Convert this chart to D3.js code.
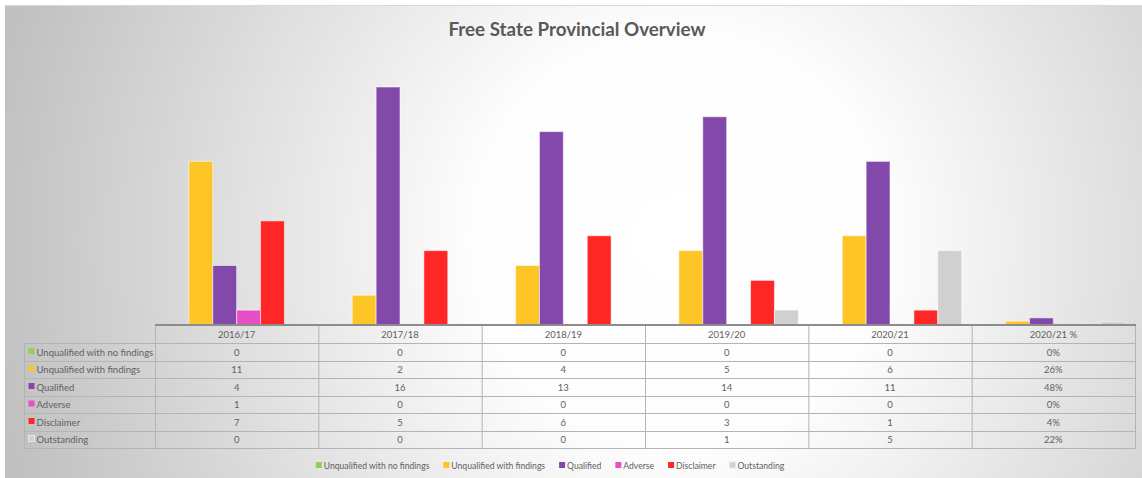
<!DOCTYPE html>
<html>
<head>
<meta charset="utf-8">
<script src="https://cdn.jsdelivr.net/npm/d3@7"></script>
<style>
  body { margin: 0; background: #ffffff; }
  svg { display: block; font-family: Lato, "Open Sans", sans-serif; }
</style>
</head>
<body>
<svg id="chart" width="1142" height="478"></svg>
<script>
// chart data
const categories = ["2016/17", "2017/18", "2018/19", "2019/20", "2020/21", "2020/21 %"];
const seriesNames = ["Unqualified with no findings", "Unqualified with findings", "Qualified", "Adverse", "Disclaimer", "Outstanding"];
const seriesColors = ["#92d050", "#fdc526", "#8249ab", "#e84fc6", "#ff2626", "#d0d0d0"];
const unqualifiedNoFindings = [0, 0, 0, 0, 0, 0];
const unqualifiedFindings = [11, 2, 4, 5, 6, 0.26];
const qualified = [4, 16, 13, 14, 11, 0.48];
const adverse = [1, 0, 0, 0, 0, 0];
const disclaimer = [7, 5, 6, 3, 1, 0.04];
const outstanding = [0, 0, 0, 1, 5, 0.22];
const seriesValues = [unqualifiedNoFindings, unqualifiedFindings, qualified, adverse, disclaimer, outstanding];

const svg = d3.select("#chart");
const W = 1142, H = 478;
const textColor = "#606060";

// background
const defs = svg.append("defs");
const grad = defs.append("radialGradient")
  .attr("id", "bg")
  .attr("gradientUnits", "userSpaceOnUse")
  .attr("cx", 680).attr("cy", 240).attr("r", 700);
grad.append("stop").attr("offset", "0").attr("stop-color", "#ffffff");
grad.append("stop").attr("offset", "0.3").attr("stop-color", "#fdfdfd");
grad.append("stop").attr("offset", "1").attr("stop-color", "#c0c0c0");

svg.append("rect").attr("x", 5).attr("y", 5).attr("width", W - 5).attr("height", H - 5).attr("fill", "url(#bg)");
svg.append("line").attr("x1", 5).attr("x2", W).attr("y1", 5.5).attr("y2", 5.5).attr("stroke", "#d9d9d9");

svg.append("text")
  .attr("x", 577).attr("y", 36)
  .attr("text-anchor", "middle")
  .attr("font-size", 18.8).attr("font-weight", "bold")
  .attr("fill", "#595959")
  .text("Free State Provincial Overview");

// scales
const left = 155, right = 1135, base = 325;
const x0 = d3.scaleBand().domain(categories).range([left, right]).paddingInner(0);
const bw = x0.bandwidth();
const x1 = d3.scaleBand().domain(seriesNames).range([10, bw - 10]).padding(0);
const y = d3.scaleLinear().domain([0, 18]).range([base, base - 18 * 14.875]);

const groups = svg.append("g").selectAll("g")
  .data(categories)
  .join("g")
  .attr("transform", d => `translate(${x0(d)},0)`);

groups.selectAll("rect")
  .data((c, ci) => seriesNames.map((s, si) => ({ s, si, v: seriesValues[si][ci] })))
  .join("rect")
  .attr("x", d => x1(d.s))
  .attr("width", x1.bandwidth())
  .attr("y", d => y(d.v))
  .attr("height", d => base - y(d.v))
  .attr("fill", d => seriesColors[d.si])
  .attr("stroke", "rgba(255,255,255,0.55)")
  .attr("stroke-width", d => d.v > 0 ? 1 : 0);

// data table
const rowH = 17.5;
const headTop = base, bodyTop = 343;
const labelLeft = 24;
const tableColor = "#b4b4b4";
const tbl = svg.append("g");

// column lines
categories.forEach((c, i) => {
  tbl.append("line")
    .attr("x1", x0(c) + 0.5).attr("x2", x0(c) + 0.5)
    .attr("y1", headTop).attr("y2", bodyTop + rowH * 6)
    .attr("stroke", tableColor);
});
tbl.append("line").attr("x1", right + 0.5).attr("x2", right + 0.5)
  .attr("y1", headTop).attr("y2", bodyTop + rowH * 6).attr("stroke", tableColor);
tbl.append("line").attr("x1", labelLeft + 0.5).attr("x2", labelLeft + 0.5)
  .attr("y1", bodyTop).attr("y2", bodyTop + rowH * 6).attr("stroke", tableColor);
// row lines
for (let r = 0; r <= 6; r++) {
  tbl.append("line")
    .attr("x1", labelLeft).attr("x2", right + 0.5)
    .attr("y1", Math.round(bodyTop + r * rowH) + 0.5).attr("y2", Math.round(bodyTop + r * rowH) + 0.5)
    .attr("stroke", tableColor);
}
// axis line
svg.append("line").attr("x1", left).attr("x2", right + 1)
  .attr("y1", base).attr("y2", base)
  .attr("stroke", "#8c8c8c").attr("stroke-width", 2);

// header labels
tbl.selectAll("text.head")
  .data(categories)
  .join("text")
  .attr("class", "head")
  .attr("x", d => x0(d) + bw / 2)
  .attr("y", headTop + 13)
  .attr("text-anchor", "middle")
  .attr("font-size", 9.5).attr("fill", textColor)
  .text(d => d);

// row labels and values
seriesNames.forEach((s, si) => {
  const ty = bodyTop + si * rowH + 12.5;
  tbl.append("rect").attr("x", 28.5).attr("y", ty - 7.5).attr("width", 6).attr("height", 6)
    .attr("fill", seriesColors[si])
    .attr("stroke", si === 5 ? "#e8e8e8" : "none");
  tbl.append("text").attr("x", 36.5).attr("y", ty)
    .attr("font-size", 9.5).attr("fill", textColor).text(s);
  categories.forEach((c, ci) => {
    const v = seriesValues[si][ci];
    const label = c.endsWith("%") ? Math.round(v * 100) + "%" : String(v);
    tbl.append("text")
      .attr("x", x0(c) + bw / 2).attr("y", ty)
      .attr("text-anchor", "middle")
      .attr("font-size", 9.5).attr("fill", textColor)
      .text(label);
  });
});

// legend
const legend = svg.append("g");
let lx = 0;
seriesNames.forEach((s, si) => {
  const g = legend.append("g").attr("transform", `translate(${lx},0)`);
  g.append("rect").attr("x", 0).attr("y", -7).attr("width", 6).attr("height", 6)
    .attr("fill", seriesColors[si])
    .attr("stroke", si === 5 ? "#e8e8e8" : "none");
  const t = g.append("text").attr("x", 8).attr("y", 0)
    .attr("font-size", 8.6).attr("fill", textColor).text(s);
  lx += 8 + t.node().getComputedTextLength() + 14;
});
lx -= 14;
legend.attr("transform", `translate(${550 - lx / 2},469)`);
</script>
</body>
</html>
